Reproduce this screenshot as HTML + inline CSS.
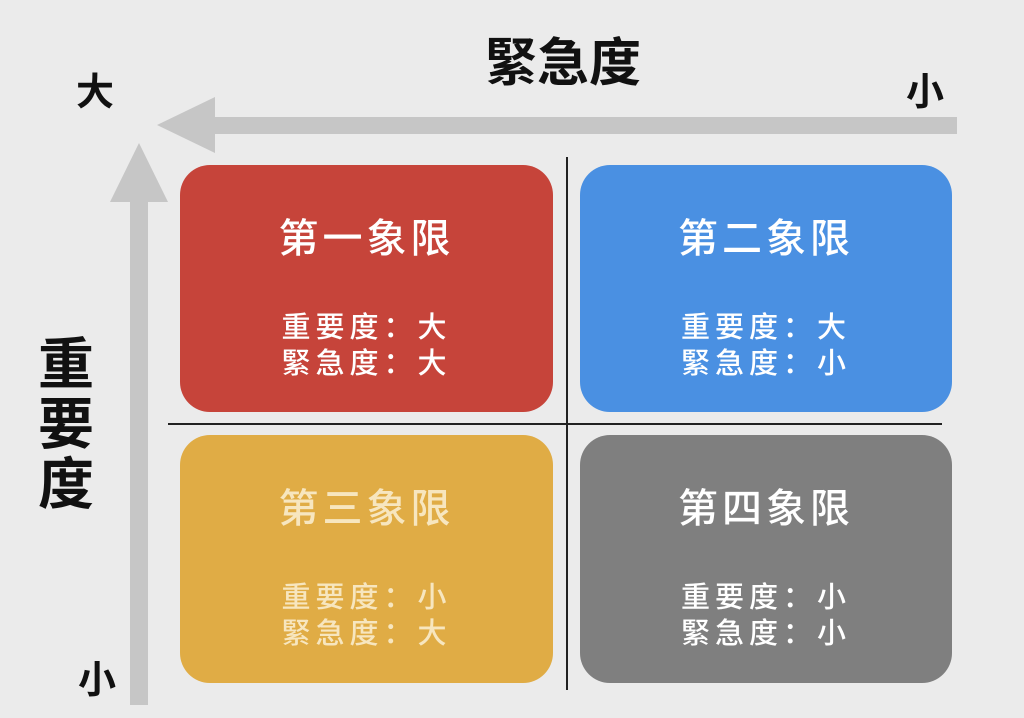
<!DOCTYPE html>
<html><head><meta charset="utf-8"><style>
body{margin:0;width:1024px;height:718px;background:#ebebeb;position:relative;overflow:hidden;font-family:"Liberation Sans","Noto Sans CJK SC",sans-serif;}
.t{position:absolute;font-weight:bold;color:#111;line-height:1;}
.box{position:absolute;border-radius:30px;color:#fff;text-align:center;}
.box .h{position:absolute;left:0;right:0;top:54px;font-size:40px;letter-spacing:4px;font-weight:500;line-height:1;}
.box .d{position:absolute;left:0;right:0;top:145px;font-size:29px;letter-spacing:5px;line-height:36px;font-weight:500;}
</style></head><body>
<div class="t" style="left:485px;top:38px;font-size:52px;">緊急度</div>
<div class="t" style="left:76px;top:74px;font-size:38px;">大</div>
<div class="t" style="left:906px;top:74px;font-size:38px;">小</div>
<div class="t" style="left:78px;top:662px;font-size:38px;">小</div>
<div class="t" style="left:38px;top:335px;font-size:56px;width:60px;line-height:60px;">重<br>要<br>度</div>
<svg width="1024" height="718" style="position:absolute;left:0;top:0">
<rect x="205" y="117" width="752" height="17" fill="#c6c6c6"/>
<polygon points="157,125 215,97 215,153" fill="#c6c6c6"/>
<rect x="130" y="195" width="18" height="510" fill="#c6c6c6"/>
<polygon points="139,143 110,202 168,202" fill="#c6c6c6"/>
<line x1="567" y1="157" x2="567" y2="690" stroke="#222" stroke-width="2"/>
<line x1="168" y1="424" x2="942" y2="424" stroke="#222" stroke-width="2"/>
</svg>
<div class="box" style="left:180px;top:165px;width:373px;height:247px;background:#c6443a"><div class="h">第一象限</div><div class="d">重要度：大<br>緊急度：大</div></div>
<div class="box" style="left:580px;top:165px;width:372px;height:247px;background:#4a90e2"><div class="h">第二象限</div><div class="d">重要度：大<br>緊急度：小</div></div>
<div class="box" style="left:180px;top:435px;width:373px;height:248px;background:#e0ac45;color:#f7e6bf"><div class="h">第三象限</div><div class="d">重要度：小<br>緊急度：大</div></div>
<div class="box" style="left:580px;top:435px;width:372px;height:248px;background:#7f7f7f"><div class="h">第四象限</div><div class="d">重要度：小<br>緊急度：小</div></div>
</body></html>
